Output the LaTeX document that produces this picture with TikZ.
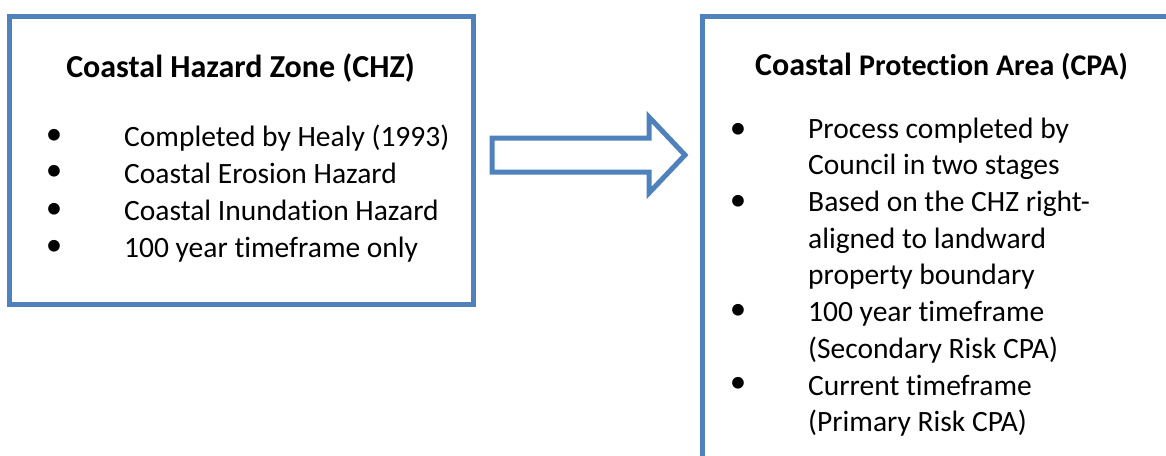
\documentclass[tikz,border=0pt]{standalone}
\usepackage{fontspec}
\setmainfont[Ligatures=NoCommon]{Carlito}
\definecolor{boxblue}{HTML}{4F81BD}
\tikzset{
  panel/.style={draw=boxblue, line width=5pt},
  heading/.style={anchor=base, font=\fontsize{32}{38}\selectfont\bfseries, inner sep=0pt},
  item/.style={anchor=base west, align=left, font=\fontsize{29.5}{36.7}\selectfont, inner sep=0pt},
  dot/.style={inner sep=0pt, font=\fontsize{33}{38}\selectfont}
}
\begin{document}
\begin{tikzpicture}[x=1pt, y=-1pt]
  \useasboundingbox (0,0) rectangle (1166,455);
  \clip (0,0) rectangle (1166,455);
  % left panel
  \draw[panel] (9.5,16.5) rectangle (473.5,304.5);
  \node[heading] (chz) at (240.5,77) {Coastal Hazard Zone (CHZ)};
  \node[item] (chz1) at (124,146) {Completed by Healy (1993)};
  \node[item] (chz2) at (124,183) {Coastal Erosion Hazard};
  \node[item] (chz3) at (124,220) {Coastal Inundation Hazard};
  \node[item] (chz4) at (124,257) {100 year timeframe only};
  \foreach \y [count=\i] in {137,173,211,248}
    \node[dot] (chzdot\i) at (54,\y) {\textbullet};
  % block arrow
  \draw[panel, line join=miter] (492,138) -- (649,138) -- (649,117) -- (685,155)
    -- (649,193) -- (649,172) -- (492,172) -- cycle;
  % right panel, runs off the page
  \draw[panel] (702.5,16.5) rectangle (1200,500);
  \node[heading] (cpa) at (941.5,75) {Coastal {\fontsize{30}{36}\selectfont Protection Area (CPA)}};
  % base of a wrapped item is its last line
  \node[item] (cpa1) at (808,174.7) {Process completed by\\Council in two stages};
  \node[item] (cpa2) at (808,284.9) {Based on the CHZ right-\\aligned to landward\\property boundary};
  \node[item] (cpa3) at (808,358.2) {100 year timeframe\\(Secondary Risk CPA)};
  \node[item] (cpa4) at (808,431.7) {Current timeframe\\(Primary Risk CPA)};
  \foreach \y [count=\i] in {131,203,312,385}
    \node[dot] (cpadot\i) at (738,\y) {\textbullet};
\end{tikzpicture}
\end{document}
